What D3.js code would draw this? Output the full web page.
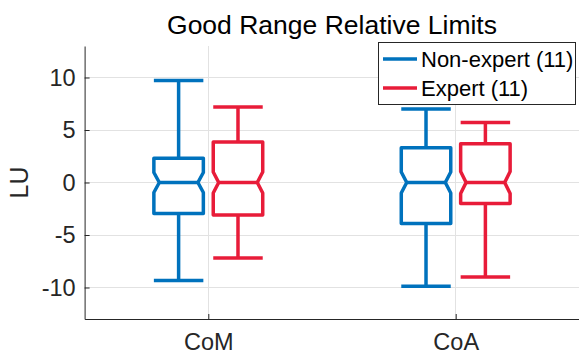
<!DOCTYPE html>
<html>
<head>
<meta charset="utf-8">
<script src="https://cdn.jsdelivr.net/npm/d3@7"></script>
<style>
  html, body { margin: 0; padding: 0; background: #fff; }
  svg { display: block; font-family: "Liberation Sans", Arial, Helvetica, sans-serif; }
</style>
</head>
<body>
<svg id="chart" width="579" height="354"></svg>
<script>
// ---- data ----
const categories = ["CoM", "CoA"];
const seriesNames = ["Non-expert (11)", "Expert (11)"];
const yTicks = [-10, -5, 0, 5, 10];
// five-number summaries per category: [lower whisker, Q1, median, Q3, upper whisker]
const nonExpertBoxes = [[-9.33, -2.95, 0, 2.3, 9.71], [-9.87, -3.9, 0, 3.3, 7.0]];
const expertBoxes    = [[-7.19, -3.1, 0, 3.85, 7.19], [-9.01, -2.0, 0, 3.7, 5.72]];
// notch half-height (data units)
const nonExpertNotch = [0.95, 1.0];
const expertNotch    = [1.0, 1.05];

// ---- style ----
const colors = ["#0072BD", "#E81C39"];
const groupOffset = [-0.12, 0.12];
const boxWidth = 0.2;
const lw = 3.5;

const svg = d3.select("#chart");
const x = d3.scaleLinear().domain([0.5, 2.5]).range([84.6, 579.4]);
const y = d3.scaleLinear().domain([-13, 13]).range([319, 46]);

// grid
const grid = svg.append("g");
grid.selectAll("line.h").data(yTicks).join("line")
  .attr("x1", x(0.5)).attr("x2", x(2.5))
  .attr("y1", d => y(d)).attr("y2", d => y(d))
  .attr("stroke", "#e2e2e2").attr("stroke-width", 1).attr("shape-rendering", "crispEdges");
grid.selectAll("line.v").data([1, 2]).join("line")
  .attr("x1", d => x(d)).attr("x2", d => x(d))
  .attr("y1", y(13)).attr("y2", y(-13))
  .attr("stroke", "#e2e2e2").attr("stroke-width", 1).attr("shape-rendering", "crispEdges");

// axes
const yAxis = svg.append("g").attr("transform", `translate(${x(0.5)},0)`)
  .call(d3.axisLeft(y).tickValues(yTicks).tickFormat(d => String(d))
    .tickSizeInner(-5).tickSizeOuter(0).tickPadding(9));
const xAxis = svg.append("g").attr("transform", `translate(0,${y(-13)})`)
  .call(d3.axisBottom(x).tickValues([1, 2]).tickFormat(d => categories[d - 1])
    .tickSizeInner(-5).tickSizeOuter(0).tickPadding(14));
[yAxis, xAxis].forEach(g => {
  g.attr("font-family", null).attr("font-size", null);
  g.selectAll("text").attr("fill", "#262626").style("font-size", "23.5px");
  g.selectAll("line").attr("stroke", "#262626");
  g.select(".domain").attr("stroke", "#262626");
});

// boxes
const series = [
  { boxes: nonExpertBoxes, notch: nonExpertNotch },
  { boxes: expertBoxes, notch: expertNotch }
];
series.forEach((s, si) => {
  const g = svg.append("g")
    .attr("fill", "none").attr("stroke", colors[si])
    .attr("stroke-width", lw).attr("stroke-linejoin", "round").attr("stroke-linecap", "butt");
  s.boxes.forEach((b, ci) => {
    const [lo, q1, med, q3, hi] = b;
    const c = ci + 1 + groupOffset[si];
    const x0 = x(c - boxWidth / 2), x1 = x(c + boxWidth / 2), xc = x(c);
    const d = (x1 - x0) * 0.11;
    const n = s.notch[ci];
    const p = d3.path();
    p.moveTo(x0, y(q3));
    p.lineTo(x0, y(med + n));
    p.lineTo(x0 + d, y(med));
    p.lineTo(x0, y(med - n));
    p.lineTo(x0, y(q1));
    p.lineTo(x1, y(q1));
    p.lineTo(x1, y(med - n));
    p.lineTo(x1 - d, y(med));
    p.lineTo(x1, y(med + n));
    p.lineTo(x1, y(q3));
    p.closePath();
    g.append("path").attr("d", p.toString());
    // median
    g.append("line").attr("x1", x0 + d).attr("x2", x1 - d).attr("y1", y(med)).attr("y2", y(med));
    // whiskers
    g.append("line").attr("x1", xc).attr("x2", xc).attr("y1", y(q3)).attr("y2", y(hi));
    g.append("line").attr("x1", xc).attr("x2", xc).attr("y1", y(q1)).attr("y2", y(lo));
    // caps
    g.append("line").attr("x1", x0).attr("x2", x1).attr("y1", y(hi)).attr("y2", y(hi));
    g.append("line").attr("x1", x0).attr("x2", x1).attr("y1", y(lo)).attr("y2", y(lo));
  });
});

// title
svg.append("text").attr("x", (x(0.5) + x(2.5)) / 2).attr("y", 34)
  .attr("text-anchor", "middle").attr("fill", "#000").style("font-size", "26.5px")
  .text("Good Range Relative Limits");

// y label
svg.append("text").attr("transform", `translate(28,${y(0)}) rotate(-90)`)
  .attr("text-anchor", "middle").attr("fill", "#262626").style("font-size", "25px")
  .text("LU");

// legend
const leg = svg.append("g");
leg.append("rect").attr("x", 378.5).attr("y", 42.5).attr("width", 197).attr("height", 62)
  .attr("fill", "#fff").attr("stroke", "#262626").attr("stroke-width", 1);
const rowY = [59, 88];
seriesNames.forEach((name, i) => {
  leg.append("line").attr("x1", 383).attr("x2", 417).attr("y1", rowY[i]).attr("y2", rowY[i])
    .attr("stroke", colors[i]).attr("stroke-width", lw);
  leg.append("text").attr("x", 421).attr("y", rowY[i] + 7.8)
    .attr("fill", "#000").style("font-size", "22px").text(name);
});
</script>
</body>
</html>
